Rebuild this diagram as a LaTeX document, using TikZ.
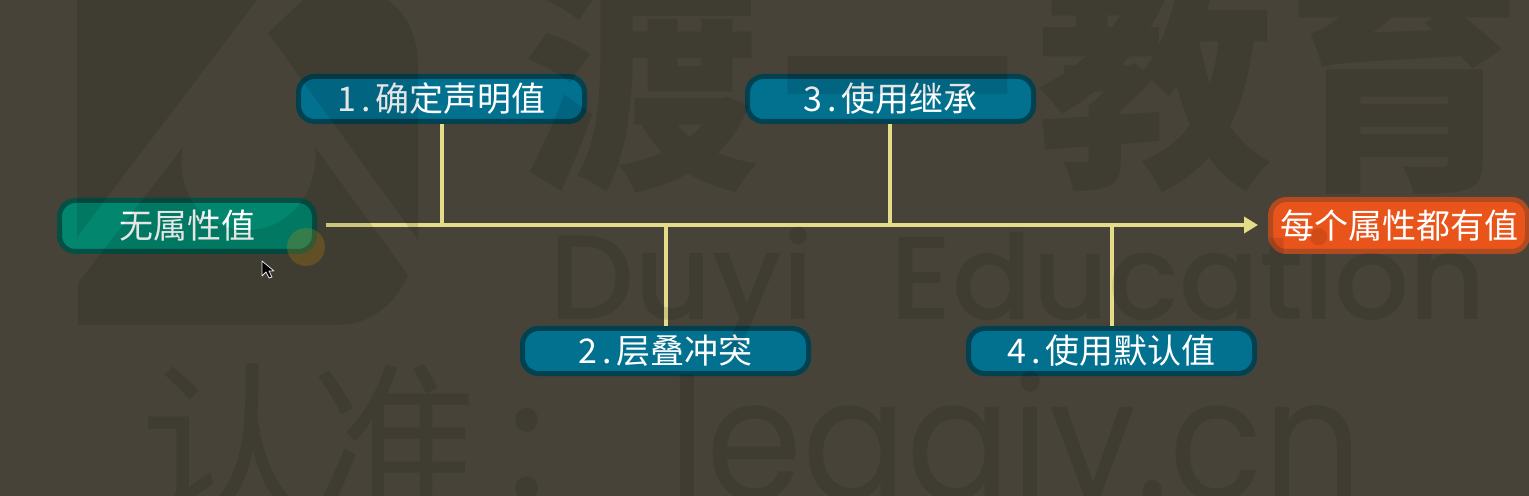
\documentclass[tikz,border=0pt]{standalone}
\usepackage{fontspec}
\setmainfont{Noto Sans CJK SC}
\newfontfamily\latinwm{Poppins}[BoldFont=* Medium]
\usetikzlibrary{arrows.meta}
\definecolor{bgc}{HTML}{474338}
\definecolor{linec}{HTML}{E3DD8A}
\definecolor{bluef}{HTML}{02708F}
\definecolor{blued}{HTML}{02414F}
\definecolor{greenf}{HTML}{02866E}
\definecolor{greend}{HTML}{045045}
\definecolor{orangef}{HTML}{E9541B}
\definecolor{oranged}{HTML}{B04A20}
\newcommand{\numlabel}[1]{\makebox[9.5pt]{#1}\makebox[9.5pt]{.}}
\tikzset{
 x=0.5pt,y=-0.5pt,
 boxbase/.style={rounded corners=8pt,line width=2.5pt,inner sep=0pt,text=white,font=\fontsize{17}{20}\selectfont},
 stepbox/.style={boxbase,draw=blued,fill=bluef,minimum width=143pt,minimum height=22.5pt},
 startbox/.style={boxbase,draw=greend,fill=greenf,minimum width=127.5pt,minimum height=25.5pt},
 endbox/.style={boxbase,draw=oranged,fill=orangef,minimum width=128.5pt,minimum height=26pt},
 mainconn/.style={draw=linec,line width=2.3pt},
 conn/.style={draw=linec,line width=2pt},
 wmshape/.style={fill=black,fill opacity=.1},
 wm/.style={text=black,text opacity=.1,inner sep=0pt},
}
\begin{document}
\begin{tikzpicture}
\useasboundingbox (0,0) rectangle (1529,496);
\fill[bgc] (0,0) rectangle (1529,496);
% nodes
\node[startbox] (s) at (187,226) {无属性值};
\node[stepbox] (a) at (441.5,99) {\numlabel{1}确定声明值};
\node[stepbox] (b) at (665.5,351) {\numlabel{2}层叠冲突};
\node[stepbox] (c) at (890.5,99) {\numlabel{3}使用继承};
\node[stepbox] (d) at (1111.5,351) {\numlabel{4}使用默认值};
\node[endbox] (e) at (1399,225.5) {每个属性都有值};
% connectors
\coordinate (ja) at (441.5,225);
\coordinate (jb) at (665.5,225);
\coordinate (jc) at (889.5,225);
\coordinate (jd) at (1111.5,225);
\draw[mainconn,-{Triangle[length=7pt,width=8pt]},shorten <=4.5pt,shorten >=5pt] (s.east |- ja) -- (e.west |- ja);
\draw[conn] (a.south) -- (ja);
\draw[conn] (b.north) -- (jb);
\draw[conn] (c.south -| jc) -- (jc);
\draw[conn] (d.north) -- (jd);
% pointer highlight and cursor
\fill[orange!70!yellow,opacity=.22] (306,247) circle (9.5pt);
\draw[white,fill=black,line width=.4pt,line join=round] (262,261) -- (262,276) -- (266,272) -- (269,278) -- (272,277) -- (269,271) -- (274,271) -- cycle;
% watermark on top of everything
\begin{scope}
\clip (0,0) rectangle (1529,496);
\fill[wmshape] (77,0) -- (257,0) -- (77,237) -- cycle;
\fill[wmshape] (268,33) -- (303,0) -- (387,0) .. controls (410,15) and (418,40) .. (418,70) -- (418,240) -- cycle;
\fill[wmshape] (78,283) -- (183,147) .. controls (175,190) and (200,230) .. (248,230) .. controls (290,230) and (320,190) .. (315,147) -- (408,275) .. controls (395,305) and (370,325) .. (337,325) -- (78,325) -- cycle;
\node[wm,font=\fontsize{118}{120}\selectfont\bfseries] (wa) at (641,80) {渡};
\node[wm,font=\fontsize{118}{120}\selectfont\bfseries] (wb) at (897,112) {一};
\node[wm,font=\fontsize{118}{120}\selectfont\bfseries] (wc) at (1155,80) {教};
\node[wm,font=\fontsize{118}{120}\selectfont\bfseries] (wd) at (1404,80) {育};
\node[wm,font=\latinwm\bfseries\fontsize{60}{64}\selectfont,anchor=base west] (we) at (549,320) {Duyi};
\node[wm,font=\latinwm\bfseries\fontsize{59}{64}\selectfont,anchor=base west] (wf) at (890,320) {Education};
\node[wm,font=\fontsize{85}{90}\selectfont] (wg) at (225,442) {认};
\node[wm,font=\fontsize{85}{90}\selectfont] (wh) at (395,442) {准};
\node[wm,font=\fontsize{85}{90}\selectfont] (wi) at (527,455) {:};
\node[wm,font=\latinwm\fontsize{85}{90}\selectfont,anchor=base west] (wj) at (668,500) {\scalebox{.91}[1]{leaaiy.cn}};
\end{scope}
\end{tikzpicture}
\end{document}
